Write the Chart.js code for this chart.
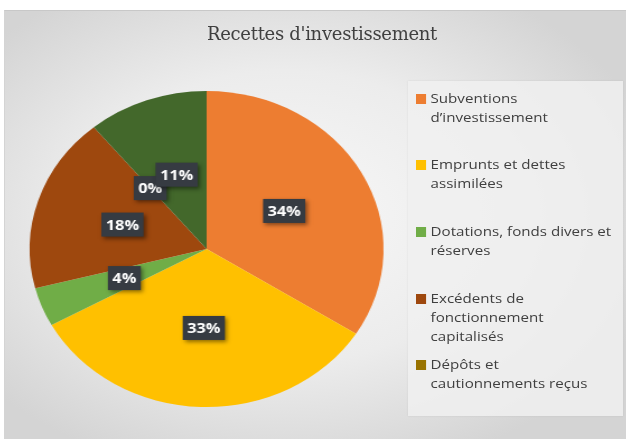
<!DOCTYPE html>
<html>
<head>
<meta charset="utf-8">
<script src="https://cdn.jsdelivr.net/npm/chart.js@4/dist/chart.umd.min.js"></script>
<style>
  html, body { margin: 0; padding: 0; background: #fff; }
  #wrap {
    position: absolute; left: 4px; top: 10px; width: 622px; height: 429px;
    border-top: 1px solid #c8c8c8; border-left: 1px solid #d4d4d4;
    background: radial-gradient(ellipse 62% 62% at 45% 48%, #f8f8f8 0%, #ececec 55%, #d4d4d4 100%);
    overflow: hidden;
  }
  #title {
    position: absolute; left: 0; width: 634px; top: 12px; text-align: center;
    font-family: "DejaVu Serif", serif; font-size: 18px; color: #404040;
    letter-spacing: -0.3px;
  }
  #legend {
    position: absolute; left: 403px; top: 70px; width: 215px; height: 335px;
    background: rgba(240,240,240,0.85); box-shadow: 0 0 2px rgba(0,0,0,0.08);
    font-family: "Open Sans", sans-serif; font-size: 13.5px; color: #404040;
  }
  .item { position: absolute; left: 8px; line-height: 19px; padding-left: 13px; width: 200px;
          transform: scaleX(1.12); transform-origin: left top; white-space: nowrap; }
  .sw { position: absolute; left: 0; top: 5px; width: 9px; height: 10px; }
  #stretch { position: absolute; left: 0; top: 0; width: 555px; height: 429px;
             transform: scaleX(1.12); transform-origin: left top; }
</style>
</head>
<body>
<div id="wrap">
  <div id="stretch"><canvas id="pie" width="555" height="429"></canvas></div>
  <div id="title">Recettes d'investissement</div>
  <div id="legend"></div>
</div>
<script>
// Data
const categories = [
  'Subventions d\u2019investissement',
  'Emprunts et dettes assimilées',
  'Dotations, fonds divers et réserves',
  'Excédents de fonctionnement capitalisés',
  'Dépôts et cautionnements reçus',
  'Autres'
];
const legendLines = [
  ['Subventions', 'd\u2019investissement'],
  ['Emprunts et dettes', 'assimilées'],
  ['Dotations, fonds divers et', 'réserves'],
  ['Excédents de', 'fonctionnement', 'capitalisés'],
  ['Dépôts et', 'cautionnements reçus']
];
const percentages = [34, 33, 4, 18, 0, 11];
const sliceColors = ['#ED7D31', '#FFC000', '#70AD47', '#9E480E', '#997300', '#43682B'];

// HTML legend (only the first five entries are shown in the original)
const legendTops = [8, 74, 141, 208, 274];
const legendEl = document.getElementById('legend');
legendLines.forEach((lines, i) => {
  const div = document.createElement('div');
  div.className = 'item';
  div.style.top = legendTops[i] + 'px';
  div.innerHTML = '<span class="sw" style="background:' + sliceColors[i] + '"></span>' + lines.join('<br>');
  legendEl.appendChild(div);
});

// Dark boxed percentage labels
const boxLabels = {
  id: 'boxLabels',
  afterDatasetsDraw(chart) {
    const ctx = chart.ctx;
    const meta = chart.getDatasetMeta(0);
    ctx.save();
    ctx.font = 'bold 14.5px "Open Sans", sans-serif';
    ctx.textAlign = 'center';
    ctx.textBaseline = 'middle';
    meta.data.forEach((arc, i) => {
      const pos = arc.tooltipPosition();
      const text = percentages[i] + '%';
      const w = ctx.measureText(text).width + 8;
      const h = 24;
      ctx.shadowColor = 'rgba(0,0,0,0.45)';
      ctx.shadowBlur = 4;
      ctx.shadowOffsetX = 2;
      ctx.shadowOffsetY = 2;
      ctx.fillStyle = '#363b42';
      ctx.fillRect(pos.x - w / 2, pos.y - h / 2, w, h);
      ctx.shadowColor = 'transparent';
      ctx.fillStyle = '#ffffff';
      ctx.fillText(text, pos.x, pos.y + 1);
    });
    ctx.restore();
  }
};

// canvas is 555 px wide, stretched to 622 px like the original picture
const ctx = document.getElementById('pie').getContext('2d');
new Chart(ctx, {
  type: 'pie',
  data: {
    labels: categories,
    datasets: [{
      data: percentages,
      backgroundColor: sliceColors,
      borderWidth: 0
    }]
  },
  options: {
    responsive: false,
    animation: false,
    layout: { padding: { left: 22, right: 217, top: 80, bottom: 33 } },
    plugins: {
      legend: { display: false },
      tooltip: { enabled: false }
    }
  },
  plugins: [boxLabels]
});
</script>
</body>
</html>
